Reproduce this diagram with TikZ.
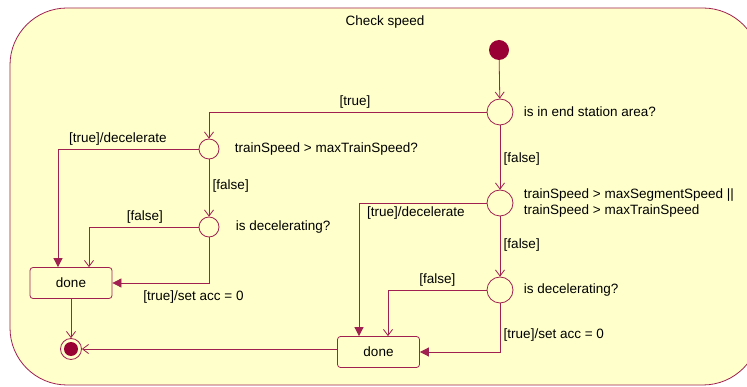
\documentclass[tikz,border=0pt]{standalone}
\usepackage{fontspec}
\setmainfont{Liberation Sans}
\usetikzlibrary{arrows.meta,positioning}
\definecolor{umlline}{RGB}{160,32,80}
\definecolor{umlfill}{RGB}{255,255,204}
\definecolor{umldot}{RGB}{153,0,51}

\begin{document}
\begin{tikzpicture}[
  x=1pt,y=-1pt,
  font=\fontsize{13.5}{16}\selectfont,
  region/.style={draw=umlline,fill=umlfill,rounded corners=57pt,line width=0.8pt},
  choice/.style={circle,draw=umlline,fill=umlfill,minimum size=26pt,inner sep=0pt,line width=0.8pt},
  smallchoice/.style={choice,minimum size=20pt},
  start/.style={circle,fill=umldot,minimum size=20pt,inner sep=0pt},
  stop/.style={circle,draw=umlline,minimum size=21pt,inner sep=0pt,line width=0.8pt,
    path picture={\fill[umldot] (path picture bounding box.center) circle (7pt);}},
  done/.style={draw=umlline,fill=umlfill,rounded corners=3pt,minimum width=82pt,minimum height=31pt,inner sep=0pt,line width=0.8pt},
  open/.style={-{Straight Barb[length=6pt,width=9pt]},draw=umlline,line width=0.8pt},
  act/.style={-{Triangle[length=9pt,width=9pt]},draw=umlline,line width=0.8pt}
]
  \useasboundingbox (0,0) rectangle (747,387);
  \draw[region] (10,8) rectangle (760,385);
  \node (title) at (385,22) {Check speed};

  \node[start] (init) at (499,50) {};
  \node[choice] (d1) at (500,112) {};
  \node[right=7pt of d1] (l1) {is in end station area?};

  \node[smallchoice] (d2) at (209,149) {};
  \node[right=12pt of d2] (l2) {trainSpeed > maxTrainSpeed?};
  \node[smallchoice] (d3) at (209,227) {};
  \node[right=13pt of d3] (l3) {is decelerating?};

  \node[choice] (d4) at (500,203) {};
  \node[right=7pt of d4,align=left] (l4) {trainSpeed > maxSegmentSpeed ||\\trainSpeed > maxTrainSpeed};
  \node[choice] (d5) at (500,290) {};
  \node[right=7pt of d5] (l5) {is decelerating?};

  \node[done] (doneL) at (71,283) {done};
  \node[done] (doneR) at (378.5,352) {done};
  \node[stop] (fin) at (71,349) {};

  % top branch
  \draw[open] (init) -- (d1);
  \draw[open] (d1.west) -| node[pos=0.237,above] {[true]} (d2.north);
  \draw[open] (d1) -- node[pos=0.52,right] {[false]} (d4);

  % left side
  \draw[act] (d2.west) -| node[pos=0.287,above] {[true]/decelerate} ([xshift=-13pt]doneL.north);
  \draw[open] (d2) -- node[pos=0.47,right] {[false]} (d3);
  \draw[open] (d3.west) -| node[pos=0.245,above] {[false]} ([xshift=18pt]doneL.north);
  \draw[act] (d3.south) |- node[pos=0.58,below=4pt] {[true]/set acc = 0} (doneL.east);
  \draw[open] (doneL) -- (fin);

  % right side
  \draw[act] (d4.west) -| node[pos=0.277,below] {[true]/decelerate} ([xshift=-19.5pt]doneR.north);
  \draw[open] (d4) -- node[pos=0.48,right] {[false]} (d5);
  \draw[open] (d5.west) -| node[pos=0.25,above] {[false]} ([xshift=9.5pt]doneR.north);
  \draw[act] (d5.south) |- node[pos=0.33,right] {[true]/set acc = 0} (doneR.east);
  \draw[open] (doneR.west |- fin) -- (fin);
\end{tikzpicture}
\end{document}
